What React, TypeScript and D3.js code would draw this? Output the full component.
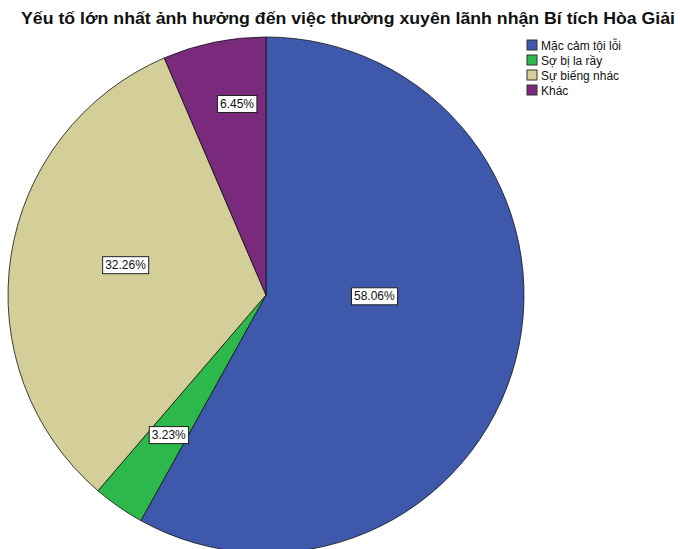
import React, { useEffect, useRef } from 'react';
import * as d3 from 'd3';

const categories = ['Mặc cảm tội lỗi', 'Sợ bị la rầy', 'Sự biếng nhác', 'Khác'];
const percents = [58.06, 3.23, 32.26, 6.45];
const colors = ['#3E58AC', '#2DB84B', '#D4CE99', '#7A2A7C'];

// label placement (SPSS puts them at odd spots)
const labelRadius = [0.42, 0.66, 0.557, 0.75];
const labelAngleShift = [-14, 0, 3.4, 3];

const title = 'Yếu tố lớn nhất ảnh hưởng đến việc thường xuyên lãnh nhận Bí tích Hòa Giải';

const App = () => {
  const ref = useRef<SVGSVGElement>(null);

  useEffect(() => {
    const svg = d3.select(ref.current);
    svg.selectAll('*').remove();

    const width = 680;
    const height = 549;
    const cx = 266;
    const cy = 295;
    const r = 258;
    const font = 'Arial, "Liberation Sans", sans-serif';

    svg
      .append('rect')
      .attr('width', width)
      .attr('height', height)
      .attr('fill', 'white');

    const pie = d3.pie<number>().sort(null).value((d) => d);
    const arcs = pie(percents);
    const arc = d3.arc<d3.PieArcDatum<number>>().innerRadius(0).outerRadius(r);

    const g = svg.append('g').attr('transform', `translate(${cx},${cy})`);

    g.selectAll('path')
      .data(arcs)
      .join('path')
      .attr('d', arc)
      .attr('fill', (d, i) => colors[i])
      .attr('stroke', '#111')
      .attr('stroke-width', 0.8);

    // percent labels
    arcs.forEach((d, i) => {
      const a = (d.startAngle + d.endAngle) / 2 + (labelAngleShift[i] * Math.PI) / 180;
      const rr = r * labelRadius[i];
      const x = Math.sin(a) * rr;
      const y = -Math.cos(a) * rr;
      const lg = g.append('g').attr('transform', `translate(${x},${y})`);
      const t = lg
        .append('text')
        .attr('text-anchor', 'middle')
        .attr('dy', '0.36em')
        .attr('font-family', font)
        .attr('font-size', 12)
        .attr('fill', '#111')
        .text(`${percents[i].toFixed(2)}%`);
      const bb = (t.node() as SVGTextElement).getBBox();
      lg.insert('rect', 'text')
        .attr('x', bb.x - 2.5)
        .attr('y', bb.y - 1.5)
        .attr('width', bb.width + 5)
        .attr('height', bb.height + 3)
        .attr('fill', 'white')
        .attr('stroke', '#222')
        .attr('stroke-width', 1);
    });

    // title
    svg
      .append('text')
      .attr('x', 348)
      .attr('y', 24)
      .attr('text-anchor', 'middle')
      .attr('font-family', font)
      .attr('font-size', 17)
      .attr('font-weight', 'bold')
      .attr('textLength', 654)
      .attr('lengthAdjust', 'spacingAndGlyphs')
      .attr('fill', '#111')
      .text(title);

    // legend
    const legend = svg.append('g').attr('transform', 'translate(527,40)');
    const items = legend
      .selectAll('g')
      .data(categories)
      .join('g')
      .attr('transform', (d, i) => `translate(0,${i * 15})`);
    items
      .append('rect')
      .attr('width', 10)
      .attr('height', 10)
      .attr('fill', (d, i) => colors[i])
      .attr('stroke', '#333')
      .attr('stroke-width', 1);
    items
      .append('text')
      .attr('x', 14)
      .attr('y', 9.5)
      .attr('font-family', font)
      .attr('font-size', 12)
      .attr('fill', '#111')
      .text((d) => d);
  }, []);

  return (
    <svg
      ref={ref}
      width={680}
      height={549}
      style={{ position: 'absolute', left: 0, top: 0 }}
    />
  );
};

export default App;
